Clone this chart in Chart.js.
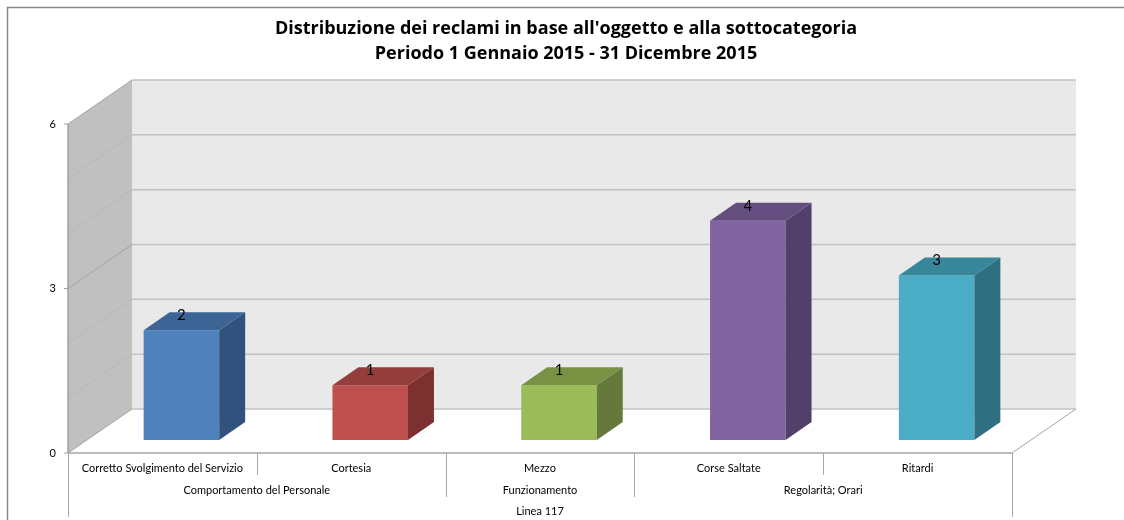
<!DOCTYPE html>
<html>
<head>
<meta charset="utf-8">
<script src="https://cdn.jsdelivr.net/npm/chart.js@4.4.1/dist/chart.umd.min.js"></script>
<style>
  html, body { margin: 0; padding: 0; background: #fff; }
  #wrap { width: 1124px; height: 520px; }
</style>
</head>
<body>
<div id="wrap"><canvas id="reclami-chart" width="1124" height="520"></canvas></div>
<script>
// dati
const categories = ['Corretto Svolgimento del Servizio', 'Cortesia', 'Mezzo', 'Corse Saltate', 'Ritardi'];
const subGroups = ['Comportamento del Personale', 'Comportamento del Personale', 'Funzionamento', 'Regolarità; Orari', 'Regolarità; Orari'];
const lineGroups = ['Linea 117', 'Linea 117', 'Linea 117', 'Linea 117', 'Linea 117'];
const reclami = [2, 1, 1, 4, 3];
const yTickValues = [0, 3, 6];
const titleLines = ['Distribuzione dei reclami in base all\'oggetto e alla sottocategoria', 'Periodo 1 Gennaio 2015 - 31 Dicembre 2015'];

// colori delle facce (fronte, sopra, lato)
const frontColors = ['#4f81bd', '#c0504d', '#9bbb59', '#8064a2', '#4bacc6'];
const topColors = ['#3c6494', '#943e3c', '#789143', '#644e80', '#37869a'];
const sideColors = ['#31527c', '#7c302f', '#657a3a', '#52406a', '#306f81'];

const FONT = 'Lato, "Open Sans", sans-serif';
const DEPTH = { x: 64, y: -44 };      // piano frontale -> parete di fondo
const BAR_FRONT = { x: 19, y: -13 };  // piano frontale -> faccia frontale barra
const BAR_DEPTH = { x: 26, y: -18 };  // profondita della barra
const MINOR_STEP = 1;

function line(ctx, x1, y1, x2, y2, color, width) {
    ctx.strokeStyle = color;
    ctx.lineWidth = width;
    ctx.beginPath();
    ctx.moveTo(x1, y1);
    ctx.lineTo(x2, y2);
    ctx.stroke();
}

function poly(ctx, pts, color) {
    ctx.fillStyle = color;
    ctx.beginPath();
    ctx.moveTo(pts[0][0], pts[0][1]);
    for (let i = 1; i < pts.length; i++) ctx.lineTo(pts[i][0], pts[i][1]);
    ctx.closePath();
    ctx.fill();
}

const box3d = {
    id: 'box3d',
    beforeDraw(chart) {
        const ctx = chart.ctx;
        ctx.save();
        ctx.fillStyle = '#fff';
        ctx.fillRect(0, 0, chart.width, chart.height);
        ctx.strokeStyle = '#898989';
        ctx.lineWidth = 1.5;
        ctx.beginPath();
        ctx.moveTo(7.5, chart.height + 5);
        ctx.lineTo(7.5, 7.5);
        ctx.lineTo(chart.width + 5, 7.5);
        ctx.stroke();
        ctx.restore();
    },
    beforeDatasetsDraw(chart) {
        const ctx = chart.ctx;
        const a = chart.chartArea;
        const x = chart.scales.x, y = chart.scales.y;
        const L = a.left, R = a.right, T = a.top, B = a.bottom;

        ctx.save();
        // parete di fondo e parete laterale
        ctx.fillStyle = '#e9e9e9';
        ctx.fillRect(L + DEPTH.x, T + DEPTH.y, R - L, B - T);
        poly(ctx, [[L, B], [L, T], [L + DEPTH.x, T + DEPTH.y], [L + DEPTH.x, B + DEPTH.y]], '#c0c0c0');

        // griglia
        for (let v = y.min; v <= y.max; v += MINOR_STEP) {
            const py = y.getPixelForValue(v);
            line(ctx, L + DEPTH.x, py + DEPTH.y, R + DEPTH.x, py + DEPTH.y, '#c2c2c2', 1.5);
            const major = yTickValues.includes(v);
            line(ctx, L, py, L + DEPTH.x, py + DEPTH.y, major ? '#a3a3a3' : '#b7b7b7', 1);
        }
        line(ctx, R, B, R + DEPTH.x, B + DEPTH.y, '#a6a6a6', 1);
        line(ctx, L, T, L, B, '#a0a0a0', 1.5);
        yTickValues.forEach(v => {
            const py = y.getPixelForValue(v);
            line(ctx, L - 4, py, L, py, '#a0a0a0', 1);
        });

        // tabella delle categorie
        const n = categories.length;
        const half = (x.getPixelForValue(1) - x.getPixelForValue(0)) / 2;
        const edge = i => x.getPixelForValue(i) - half;
        line(ctx, L, B, R, B, '#a6a6a6', 1.5);
        for (let i = 0; i <= n; i++) {
            let len = 22;
            if (i === 0 || i === n || lineGroups[i] !== lineGroups[i - 1]) len = 64;
            else if (subGroups[i] !== subGroups[i - 1]) len = 44;
            const px = Math.round(edge(i)) + 0.5;
            line(ctx, px, B, px, B + len, '#a6a6a6', 1);
        }
        ctx.fillStyle = '#000';
        ctx.font = '11px ' + FONT;
        ctx.textAlign = 'center';
        ctx.textBaseline = 'middle';
        categories.forEach((c, i) => ctx.fillText(c, x.getPixelForValue(i), B + 15));
        [subGroups, lineGroups].forEach((groups, row) => {
            let start = 0;
            for (let i = 1; i <= n; i++) {
                if (i === n || groups[i] !== groups[start]) {
                    ctx.fillText(groups[start], (edge(start) + edge(i)) / 2, B + 37 + row * 21);
                    start = i;
                }
            }
        });
        ctx.restore();

        // le facce frontali vengono disegnate da Chart.js, spostate in profondita
        ctx.save();
        ctx.translate(BAR_FRONT.x, BAR_FRONT.y);
    },
    afterDatasetsDraw(chart) {
        const ctx = chart.ctx;
        ctx.restore();
        ctx.save();
        const meta = chart.getDatasetMeta(0);
        meta.data.forEach((el, i) => {
            const p = el.getProps(['x', 'y', 'base', 'width'], true);
            const xl = p.x - p.width / 2 + BAR_FRONT.x;
            const xr = p.x + p.width / 2 + BAR_FRONT.x;
            const top = p.y + BAR_FRONT.y;
            const base = p.base + BAR_FRONT.y;
            poly(ctx, [[xr, top], [xr + BAR_DEPTH.x, top + BAR_DEPTH.y], [xr + BAR_DEPTH.x, base + BAR_DEPTH.y], [xr, base]], sideColors[i]);
            poly(ctx, [[xl, top], [xl + BAR_DEPTH.x, top + BAR_DEPTH.y], [xr + BAR_DEPTH.x, top + BAR_DEPTH.y], [xr, top]], topColors[i]);
            ctx.fillStyle = '#000';
            ctx.font = '15px ' + FONT;
            ctx.textAlign = 'center';
            ctx.textBaseline = 'middle';
            ctx.fillText(String(reclami[i]), p.x + BAR_FRONT.x, top - 15);
        });
        ctx.restore();
    }
};

document.addEventListener('DOMContentLoaded', function() {
    const ctx = document.getElementById('reclami-chart').getContext('2d');
    window.reclamiChart = new Chart(ctx, {
        type: 'bar',
        data: {
            labels: categories,
            datasets: [{
                data: reclami,
                backgroundColor: frontColors,
                barPercentage: 0.4,
                categoryPercentage: 1,
                clip: false
            }]
        },
        options: {
            responsive: false,
            animation: false,
            devicePixelRatio: 1,
            layout: { padding: { left: 8, right: 0, top: 8, bottom: 67 } },
            plugins: {
                legend: { display: false },
                tooltip: { enabled: false },
                title: {
                    display: true,
                    text: titleLines,
                    color: '#000',
                    font: { family: '"Open Sans", Lato, sans-serif', size: 18, weight: 'bold', lineHeight: 1.4 },
                    padding: { top: 8, bottom: 57.6 }
                }
            },
            scales: {
                x: { display: false },
                y: {
                    min: yTickValues[0],
                    max: yTickValues[yTickValues.length - 1],
                    afterFit(scale) { scale.width = 60; },
                    afterBuildTicks(scale) { scale.ticks = yTickValues.map(v => ({ value: v })); },
                    grid: { display: false, drawTicks: true, tickLength: 4 },
                    border: { display: false },
                    ticks: { padding: 8, color: '#000', font: { family: FONT, size: 11 } }
                },
                // spazio vuoto a destra per la profondita 3D
                yDepth: {
                    position: 'right',
                    min: yTickValues[0],
                    max: yTickValues[yTickValues.length - 1],
                    afterFit(scale) { scale.width = 112; },
                    grid: { display: false },
                    border: { display: false },
                    ticks: { display: false }
                }
            }
        },
        plugins: [box3d]
    });
});
</script>
</body>
</html>
